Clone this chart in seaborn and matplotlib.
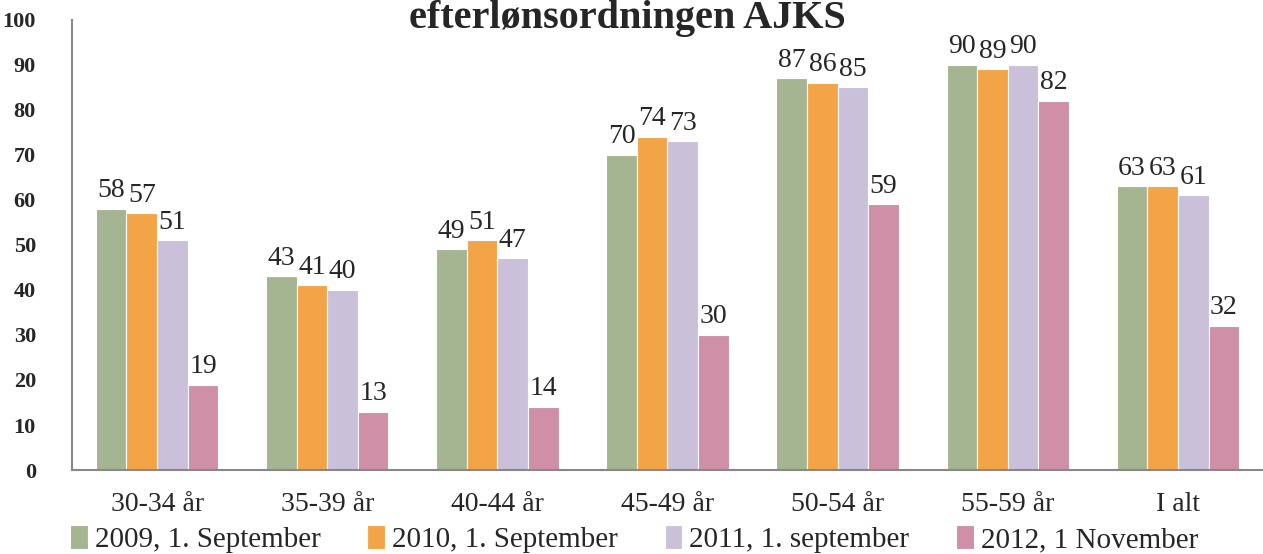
import matplotlib.pyplot as plt
import seaborn as sns
import pandas as pd

sns.set_theme(style="white")
plt.rcParams['font.family'] = ['Liberation Serif', 'DejaVu Serif']

# data
groups = ['30-34 år', '35-39 år', '40-44 år', '45-49 år', '50-54 år', '55-59 år', 'I alt']
series = ['2009, 1. September', '2010, 1. September', '2011, 1. september', '2012, 1 November']
v2009 = [58, 43, 49, 70, 87, 90, 63]
v2010 = [57, 41, 51, 74, 86, 89, 63]
v2011 = [51, 40, 47, 73, 85, 90, 61]
v2012 = [19, 13, 14, 30, 59, 82, 32]
colors = ['#A5B592', '#F3A447', '#CBC0DA', '#CF8FA6']

rows = []
for name, vals in zip(series, [v2009, v2010, v2011, v2012]):
    for g, v in zip(groups, vals):
        rows.append({'Gruppe': g, 'Serie': name, 'Andel': v})
df = pd.DataFrame(rows)

fig = plt.figure(figsize=(12.63, 5.54), dpi=100)
ax = fig.add_axes([0.057, 0.1516, 0.943, 0.8124])

sns.barplot(data=df, x='Gruppe', y='Andel', hue='Serie', palette=colors,
            saturation=1, width=0.72, edgecolor='white', linewidth=0.8, ax=ax)

for cont in ax.containers:
    ax.bar_label(cont, fmt='%d', padding=4, fontsize=20)

ax.set_ylim(0, 100)
ax.set_yticks(range(0, 101, 10))
ax.set_xlim(-0.5, 6.5)
ax.set_xlabel('')
ax.set_ylabel('')
ax.tick_params(axis='y', labelsize=16, pad=26, length=0)
ax.tick_params(axis='x', labelsize=20, pad=16, length=0)
for lab in ax.get_yticklabels():
    lab.set_fontweight('bold')
for s in ['top', 'right']:
    ax.spines[s].set_visible(False)
for s in ['left', 'bottom']:
    ax.spines[s].set_color('#888888')
    ax.spines[s].set_linewidth(1.5)

ax.legend(loc='center', bbox_to_anchor=(0.472, -0.153), ncol=4, frameon=False,
          fontsize=21, handlelength=0.6, handleheight=0.9, handletextpad=0.25,
          columnspacing=1.6, borderaxespad=0, borderpad=0)

fig.text(0.497, 1, 'efterlønsordningen AJKS', ha='center', va='top',
         fontsize=29, fontweight='bold')

fig.savefig('out.png', dpi=100)
